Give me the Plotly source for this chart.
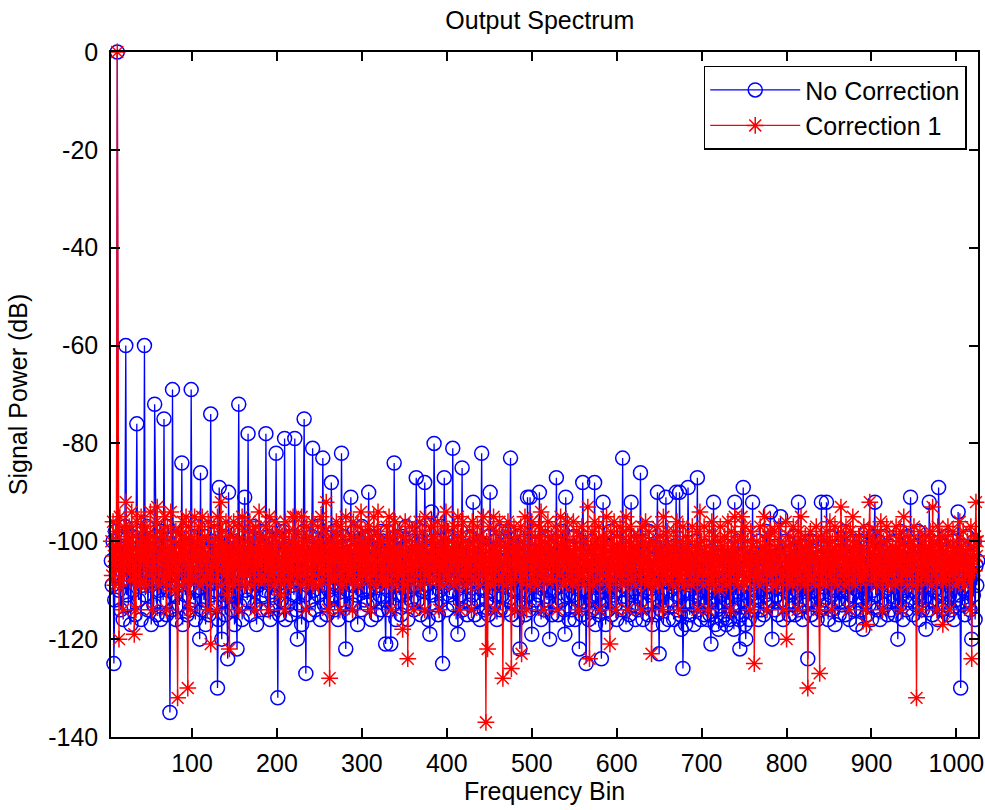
import plotly.graph_objects as go

# ---------------- data ----------------
X_START = 5  # first frequency bin shown

# "No Correction" signal power (dB), bins 5..1025, rows of 20 bins
no_correction_rows = [
    [-104,-109,-100,-125,-112,-98,-107,0,-103,-110,-99,-114,-105,-101,-116,-108,-97,-60,-111,-104],
    [-113,-102,-107,-117,-99,-106,-110,-103,-115,-100,-76,-108,-112,-98,-105,-116,-101,-109,-104,-60],
    [-111,-103,-97,-114,-106,-100,-109,-117,-102,-108,-113,-72,-99,-105,-115,-101,-110,-107,-116,-98],
    [-104,-112,-75,-108,-101,-115,-97,-110,-106,-135,-103,-114,-69,-107,-99,-111,-116,-102,-109,-105],
    [-113,-100,-108,-84,-117,-104,-98,-111,-106,-115,-102,-109,-101,-114,-69,-107,-99,-112,-105,-116],
    [-103,-110,-97,-108,-120,-86,-114,-106,-101,-112,-99,-117,-105,-109,-102,-115,-107,-74,-111,-100],
    [-106,-113,-98,-110,-104,-130,-116,-89,-101,-108,-120,-103,-112,-99,-115,-107,-111,-124,-90,-105],
    [-109,-102,-114,-100,-107,-117,-104,-111,-122,-98,-72,-113,-106,-101,-116,-108,-103,-91,-110,-105],
    [-112,-78,-104,-99,-115,-107,-102,-110,-97,-113,-106,-117,-100,-109,-103,-114,-98,-108,-111,-105],
    [-101,-110,-78,-106,-114,-99,-108,-116,-103,-111,-97,-107,-113,-104,-82,-109,-132,-100,-115,-106],
    [-112,-103,-98,-110,-79,-116,-105,-101,-113,-107,-99,-115,-104,-109,-102,-111,-79,-106,-114,-120],
    [-100,-108,-113,-103,-117,-106,-98,-75,-111,-127,-104,-109,-101,-115,-107,-112,-99,-81,-110,-105],
    [-114,-102,-108,-97,-111,-106,-116,-100,-109,-83,-104,-113,-99,-107,-115,-103,-110,-101,-112,-88],
    [-105,-111,-98,-114,-103,-109,-100,-116,-107,-102,-112,-82,-106,-99,-113,-108,-122,-104,-110,-101],
    [-115,-106,-91,-109,-102,-113,-98,-107,-111,-104,-117,-100,-108,-103,-114,-97,-110,-105,-112,-99],
    [-107,-113,-101,-90,-110,-104,-116,-99,-108,-112,-103,-106,-115,-100,-109,-105,-111,-98,-114,-102],
    [-108,-100,-112,-121,-105,-98,-110,-114,-103,-121,-107,-101,-113,-84,-106,-116,-99,-109,-104,-111],
    [-102,-115,-106,-99,-111,-104,-113,-97,-108,-116,-101,-110,-105,-112,-100,-107,-114,-103,-109,-87],
    [-106,-112,-100,-108,-115,-103,-110,-98,-113,-88,-105,-109,-101,-116,-107,-119,-102,-94,-111,-104],
    [-80,-108,-113,-100,-106,-115,-102,-110,-97,-112,-125,-105,-87,-109,-103,-114,-99,-107,-111,-101],
    [-110,-104,-81,-113,-100,-108,-116,-102,-119,-106,-111,-98,-109,-85,-114,-103,-107,-112,-101,-115],
    [-105,-109,-99,-113,-103,-111,-92,-107,-115,-101,-108,-104,-112,-100,-116,-106,-82,-110,-102,-114],
    [-108,-101,-112,-105,-115,-99,-90,-110,-103,-113,-107,-100,-111,-106,-116,-102,-109,-104,-114,-98],
    [-111,-104,-109,-100,-114,-106,-102,-112,-98,-108,-83,-115,-103,-110,-105,-113,-101,-107,-116,-99],
    [-106,-122,-110,-103,-113,-100,-108,-115,-104,-111,-91,-107,-114,-91,-102,-119,-109,-105,-112,-98],
    [-113,-102,-108,-111,-90,-105,-116,-100,-109,-104,-114,-99,-107,-112,-103,-110,-120,-106,-101,-115],
    [-104,-110,-100,-113,-87,-107,-115,-102,-109,-105,-112,-98,-106,-114,-119,-91,-108,-103,-111,-116],
    [-101,-109,-114,-104,-111,-99,-116,-106,-103,-112,-108,-122,-100,-110,-115,-88,-105,-113,-107,-125],
    [-110,-103,-116,-107,-112,-100,-114,-105,-109,-88,-117,-102,-111,-106,-115,-104,-113,-124,-108,-92],
    [-112,-105,-117,-101,-109,-114,-103,-110,-98,-115,-107,-111,-100,-113,-106,-116,-102,-108,-104,-110],
    [-106,-114,-83,-109,-101,-112,-117,-104,-110,-99,-115,-107,-92,-111,-103,-113,-105,-116,-100,-108],
    [-114,-102,-109,-86,-112,-105,-116,-100,-110,-107,-113,-103,-115,-98,-108,-111,-104,-117,-106,-101],
    [-109,-115,-103,-90,-112,-123,-106,-114,-100,-111,-117,-105,-108,-91,-113,-102,-116,-107,-110,-104],
    [-112,-106,-116,-101,-109,-90,-114,-104,-111,-90,-115,-118,-107,-126,-113,-103,-117,-108,-110,-89],
    [-105,-115,-109,-102,-113,-107,-117,-100,-111,-106,-87,-114,-104,-112,-116,-103,-110,-108,-115,-101],
    [-113,-107,-116,-104,-110,-115,-121,-102,-112,-92,-108,-117,-105,-114,-109,-118,-103,-111,-106,-116],
    [-110,-104,-115,-108,-117,-101,-112,-106,-116,-109,-103,-114,-107,-118,-92,-111,-105,-113,-100,-116],
    [-122,-108,-115,-103,-89,-112,-117,-120,-106,-113,-109,-116,-101,-111,-107,-92,-114,-104,-110,-105],
    [-112,-106,-116,-100,-110,-114,-103,-108,-115,-105,-111,-98,-113,-107,-109,-102,-94,-112,-120,-104],
    [-108,-114,-101,-111,-106,-115,-103,-109,-95,-112,-104,-116,-107,-110,-100,-113,-105,-109,-115,-102],
    [-111,-104,-113,-107,-99,-115,-102,-110,-106,-92,-114,-103,-112,-108,-116,-101,-109,-105,-113,-100],
    [-124,-107,-112,-104,-115,-100,-110,-106,-113,-102,-109,-116,-105,-111,-103,-114,-92,-108,-101,-112],
    [-106,-113,-92,-109,-116,-103,-111,-99,-114,-107,-104,-110,-117,-101,-108,-112,-105,-115,-102,-109],
    [-113,-104,-110,-98,-115,-107,-101,-112,-106,-116,-103,-109,-111,-100,-114,-105,-108,-117,-102,-110],
    [-107,-112,-100,-114,-105,-118,-109,-103,-111,-98,-115,-106,-113,-101,-108,-116,-104,-110,-99,-92],
    [-111,-104,-114,-100,-108,-116,-102,-112,-106,-99,-113,-107,-110,-103,-115,-105,-109,-101,-114,-106],
    [-103,-112,-107,-115,-100,-109,-120,-105,-113,-98,-111,-106,-116,-102,-110,-104,-114,-108,-99,-112],
    [-106,-91,-110,-103,-115,-108,-101,-113,-105,-111,-98,-116,-107,-109,-102,-114,-104,-112,-100,-118],
    [-109,-103,-114,-92,-107,-112,-100,-115,-105,-110,-102,-113,-106,-116,-89,-108,-111,-101,-114,-104],
    [-110,-105,-113,-99,-108,-115,-102,-111,-106,-114,-100,-109,-116,-104,-112,-107,-103,-94,-111,-106],
    [-130,-108,-113,-101,-110,-115,-104,-109,-99,-112,-106,-114,-103,-120,-107,-111,-100,-116,-105,-109],
    [-104],
]

# "Correction 1" signal power (dB), bins 5..1025, rows of 20 bins
correction1_rows = [
    [-100,-107,-96,-103,-109,-98,-105,0,-102,-120,-95,-108,-101,-104,-114,-97,-106,-92,-103,-99],
    [-105,-97,-108,-101,-94,-106,-99,-119,-103,-114,-96,-102,-107,-100,-109,-95,-104,-98,-108,-101],
    [-103,-109,-97,-105,-100,-107,-94,-102,-114,-99,-106,-101,-108,-96,-93,-104,-109,-98,-103,-107],
    [-99,-105,-108,-95,-102,-114,-97,-106,-101,-109,-94,-104,-107,-100,-103,-110,-98,-105,-132,-101],
    [-106,-98,-103,-109,-96,-104,-100,-108,-95,-102,-130,-97,-105,-114,-99,-107,-101,-104,-95,-108],
    [-100,-106,-103,-97,-109,-101,-105,-95,-108,-102,-99,-107,-104,-114,-96,-103,-106,-121,-100,-105],
    [-108,-97,-104,-101,-114,-95,-106,-100,-103,-92,-109,-98,-105,-102,-107,-96,-111,-101,-104,-122],
    [-99,-106,-102,-109,-96,-104,-108,-100,-105,-97,-114,-103,-101,-107,-95,-106,-102,-109,-98,-104],
    [-107,-100,-105,-96,-109,-102,-98,-106,-103,-114,-97,-104,-101,-108,-94,-105,-100,-107,-103,-99],
    [-102,-108,-97,-105,-101,-114,-95,-104,-107,-99,-106,-102,-109,-96,-103,-100,-108,-105,-98,-111],
    [-104,-99,-107,-101,-114,-96,-105,-102,-108,-98,-103,-109,-100,-106,-95,-104,-101,-95,-107,-103],
    [-98,-106,-101,-109,-95,-103,-107,-100,-105,-114,-97,-102,-108,-99,-104,-106,-96,-109,-101,-103],
    [-107,-100,-104,-97,-109,-102,-105,-95,-108,-101,-103,-106,-98,-92,-104,-114,-100,-128,-102,-107],
    [-101,-105,-98,-108,-103,-96,-107,-100,-104,-114,-97,-102,-109,-99,-106,-103,-95,-108,-101,-105],
    [-103,-107,-99,-105,-114,-96,-102,-108,-100,-104,-97,-109,-101,-106,-94,-103,-107,-100,-105,-98],
    [-106,-101,-108,-97,-104,-114,-99,-103,-107,-95,-105,-102,-109,-98,-94,-104,-100,-107,-103,-108],
    [-100,-106,-103,-109,-97,-102,-108,-95,-105,-101,-114,-99,-104,-107,-96,-103,-109,-98,-106,-102],
    [-105,-99,-107,-118,-102,-109,-96,-104,-100,-124,-106,-97,-103,-108,-101,-105,-114,-98,-104,-102],
    [-107,-101,-104,-96,-109,-103,-98,-106,-102,-114,-95,-105,-100,-107,-103,-108,-97,-104,-101,-106],
    [-99,-105,-108,-102,-96,-104,-114,-100,-106,-97,-103,-109,-101,-105,-94,-107,-102,-98,-108,-103],
    [-106,-100,-103,-109,-97,-105,-101,-108,-95,-104,-114,-99,-102,-107,-96,-103,-106,-100,-109,-104],
    [-101,-107,-98,-104,-114,-96,-102,-106,-100,-108,-103,-97,-105,-109,-99,-104,-101,-107,-95,-105],
    [-103,-137,-100,-122,-106,-97,-104,-109,-101,-107,-95,-103,-114,-98,-105,-102,-108,-96,-104,-100],
    [-107,-128,-101,-105,-98,-109,-103,-96,-106,-100,-108,-126,-102,-104,-97,-114,-101,-106,-99,-105],
    [-102,-108,-97,-123,-104,-100,-107,-95,-105,-114,-101,-103,-98,-109,-104,-96,-106,-102,-108,-99],
    [-105,-101,-109,-97,-103,-107,-94,-106,-100,-114,-102,-98,-105,-108,-96,-104,-101,-107,-99,-103],
    [-108,-100,-104,-97,-106,-114,-99,-103,-107,-95,-105,-101,-109,-98,-104,-102,-108,-96,-103,-106],
    [-100,-107,-103,-109,-96,-105,-101,-108,-98,-104,-114,-99,-106,-102,-97,-107,-103,-109,-100,-105],
    [-103,-93,-107,-124,-101,-105,-98,-109,-102,-96,-106,-100,-108,-104,-97,-114,-101,-105,-99,-107],
    [-104,-100,-107,-95,-105,-109,-102,-121,-98,-106,-101,-108,-96,-103,-114,-99,-105,-102,-107,-97],
    [-106,-101,-109,-98,-104,-107,-95,-103,-114,-100,-105,-97,-108,-102,-106,-99,-104,-109,-101,-103],
    [-99,-107,-102,-105,-114,-97,-104,-100,-108,-96,-106,-103,-109,-98,-105,-101,-123,-107,-100,-104],
    [-108,-101,-105,-97,-109,-103,-99,-106,-102,-114,-95,-104,-107,-100,-105,-98,-108,-102,-106,-101],
    [-103,-109,-98,-105,-101,-107,-96,-104,-114,-100,-106,-102,-108,-97,-103,-109,-99,-105,-101,-107],
    [-100,-106,-103,-109,-97,-104,-108,-101,-105,-98,-114,-102,-107,-94,-104,-100,-106,-109,-97,-103],
    [-107,-101,-105,-114,-98,-103,-108,-96,-106,-102,-109,-99,-104,-107,-100,-105,-110,-97,-103,-108],
    [-101,-106,-99,-104,-109,-102,-96,-107,-103,-114,-98,-105,-101,-108,-95,-104,-106,-100,-109,-103],
    [-105,-99,-95,-107,-102,-109,-97,-104,-108,-100,-106,-103,-114,-98,-105,-101,-107,-125,-103,-106],
    [-100,-107,-104,-109,-97,-103,-106,-101,-108,-95,-105,-102,-114,-99,-104,-107,-98,-106,-102,-109],
    [-103,-98,-106,-109,-101,-105,-97,-108,-103,-100,-107,-114,-102,-104,-96,-120,-105,-101,-108,-99],
    [-106,-102,-109,-97,-104,-107,-100,-105,-114,-98,-103,-108,-95,-106,-101,-104,-109,-99,-107,-102],
    [-130,-101,-106,-98,-108,-103,-100,-107,-104,-109,-97,-105,-102,-114,-127,-99,-106,-103,-108,-100],
    [-105,-109,-98,-104,-101,-107,-96,-106,-114,-100,-103,-108,-97,-105,-102,-109,-99,-104,-107,-93],
    [-102,-106,-99,-109,-104,-97,-107,-101,-105,-114,-98,-103,-108,-95,-106,-102,-109,-100,-104,-107],
    [-99,-105,-108,-101,-103,-107,-97,-106,-114,-117,-102,-105,-98,-92,-104,-108,-101,-106,-100,-107],
    [-103,-109,-98,-105,-101,-107,-96,-104,-114,-100,-106,-102,-108,-97,-103,-109,-99,-105,-102,-107],
    [-101,-106,-103,-109,-97,-104,-108,-100,-105,-98,-114,-102,-107,-95,-104,-101,-106,-109,-99,-103],
    [-107,-100,-105,-102,-109,-97,-104,-106,-132,-101,-108,-103,-98,-105,-114,-100,-106,-102,-107,-99],
    [-104,-108,-101,-106,-98,-103,-109,-93,-105,-100,-107,-102,-114,-97,-104,-106,-101,-108,-99,-117],
    [-102,-106,-99,-108,-103,-97,-105,-114,-101,-104,-107,-98,-106,-102,-109,-100,-105,-103,-108,-96],
    [-105,-101,-108,-98,-104,-109,-102,-106,-100,-107,-103,-114,-97,-124,-104,-101,-106,-99,-92,-103],
    [-100],
]

x_tick_values = [100, 200, 300, 400, 500, 600, 700, 800, 900, 1000]
x_tick_labels = ["100", "200", "300", "400", "500", "600", "700", "800", "900", "1000"]
y_tick_values = [0, -20, -40, -60, -80, -100, -120, -140]
y_tick_labels = ["0", "-20", "-40", "-60", "-80", "-100", "-120", "-140"]

for rows in (no_correction_rows, correction1_rows):
    for r in rows[:-1]:
        assert len(r) == 20, (len(r), r)

no_correction = [v for r in no_correction_rows for v in r]
correction1 = [v for r in correction1_rows for v in r]
bins = list(range(X_START, X_START + len(no_correction)))
bins_c = list(range(X_START, X_START + len(correction1)))

# ---------------- figure ----------------
FONT = "Liberation Sans, Arial, sans-serif"
FS = 25

fig = go.Figure()
fig.add_trace(go.Scatter(
    x=bins, y=no_correction, name="No Correction", mode="lines+markers",
    line=dict(color="rgb(0,0,255)", width=1.3),
    marker=dict(symbol="circle-open", size=14, color="rgb(0,0,255)",
                line=dict(color="rgb(0,0,255)", width=1.5)),
    cliponaxis=False,
))
fig.add_trace(go.Scatter(
    x=bins_c, y=correction1, name="Correction 1", mode="lines+markers",
    line=dict(color="rgb(255,0,0)", width=1.3),
    marker=dict(symbol="asterisk-open", size=14, color="rgb(255,0,0)",
                line=dict(color="rgb(255,0,0)", width=1.5)),
    cliponaxis=False,
))

axis_common = dict(
    showline=True, linecolor="black", linewidth=1.5, mirror="ticks",
    ticks="inside", ticklen=9, tickwidth=1.5, tickcolor="black",
    showgrid=False, zeroline=False,
    tickfont=dict(family=FONT, size=FS, color="black"),
)

fig.update_layout(
    width=985, height=810,
    margin=dict(l=111, r=7, t=52, b=73),
    paper_bgcolor="white", plot_bgcolor="white",
    font=dict(family=FONT, size=FS, color="black"),
    title=dict(text="Output Spectrum", x=0.548, xanchor="center",
               y=1 - 20 / 810, yanchor="middle",
               font=dict(family=FONT, size=FS, color="black")),
    xaxis=dict(range=[4.6, 1025.4], tickvals=x_tick_values, ticktext=x_tick_labels,
               title=dict(text="Frequency Bin", standoff=7,
                          font=dict(family=FONT, size=FS, color="black")),
               ticklabelstandoff=3, automargin=False, **axis_common),
    yaxis=dict(range=[-140, 0], tickvals=y_tick_values, ticktext=y_tick_labels,
               title=dict(text="Signal Power (dB)", standoff=13,
                          font=dict(family=FONT, size=FS, color="black")),
               ticklabelstandoff=6, automargin=False, **axis_common),
    legend=dict(x=0.987, xanchor="right", y=0.98, yanchor="top",
                bgcolor="white", bordercolor="black", borderwidth=1.5,
                font=dict(family=FONT, size=FS, color="black"),
                itemwidth=90),
    showlegend=True,
)

fig.write_html("out.html", config={"displayModeBar": False},
               post_script="document.body.style.margin='0';")
